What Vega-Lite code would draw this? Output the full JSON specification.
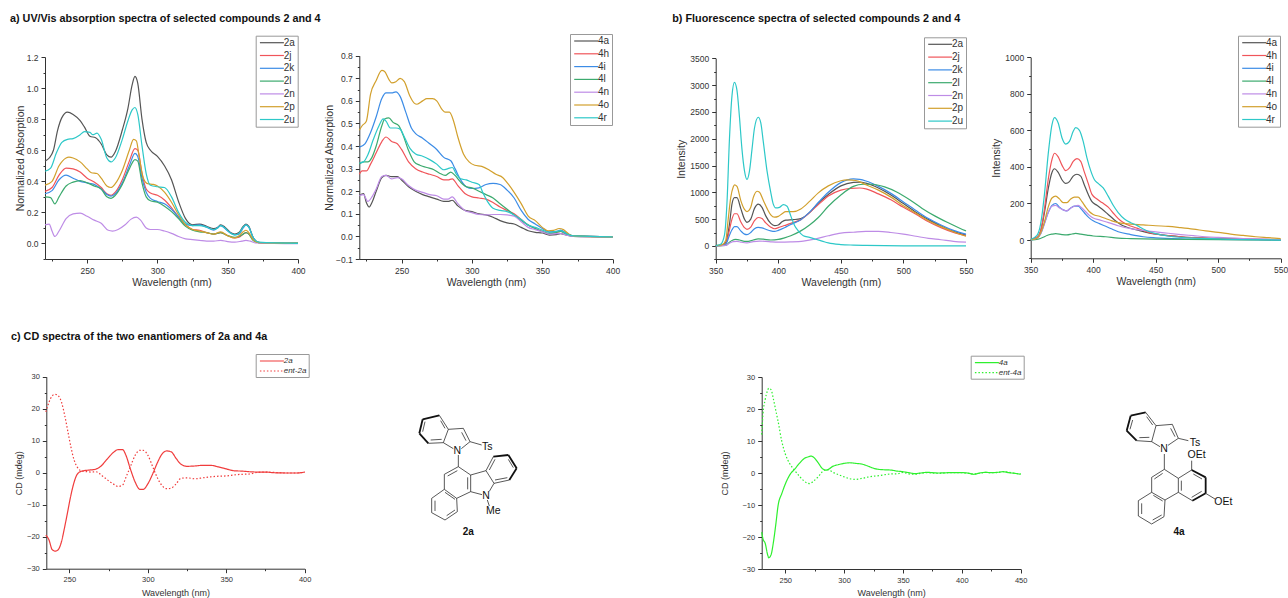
{"$schema":"https://vega.github.io/schema/vega-lite/v6.json","width":1288,"height":598,"padding":0,"autosize":{"type":"none"},"background":"white",
"config":{"view":{"stroke":null},"axis":{"grid":false,"domainColor":"#333","tickColor":"#333","labelColor":"#333","titleColor":"#333","labelFont":"Liberation Sans","titleFont":"Liberation Sans","titleFontWeight":"normal","labelFontSize":8.5,"titleFontSize":10.5,"labelOverlap":false,"labelPadding":3,"titlePadding":3,"domainWidth":1,"tickWidth":1,"labelFlush":false},"legend":{"labelFont":"Liberation Sans","labelColor":"#333"},"line":{"interpolate":"monotone","strokeWidth":1.2,"clip":false},"text":{"font":"Liberation Sans","color":"#111"}},
"resolve":{"scale":{"x":"independent","y":"independent","color":"independent","strokeDash":"independent","size":"independent"},"axis":{"x":"independent","y":"independent"},"legend":{"color":"independent","strokeDash":"independent","size":"independent"}},
"datasets":{
"titles":[{"panel":"a","w":195.1,"v":1.445,"label":"a) UV/Vis absorption spectra of selected compounds 2 and 4"},{"panel":"b","w":315.3,"v":4233,"label":"b) Fluorescence spectra of selected compounds 2 and 4"},{"panel":"c","w":212.8,"v":42.3,"label":"c) CD spectra of the two enantiomers of  2a and 4a"}],
"mol2a":[{"x1":68,"y1":58,"x2":118,"y2":46,"k":"bold"},{"x1":68,"y1":58,"x2":58,"y2":100,"k":"bold"},{"x1":58,"y1":100,"x2":85,"y2":130,"k":"bold"},{"x1":118,"y1":46,"x2":145,"y2":88,"k":"thin"},{"x1":145,"y1":88,"x2":130,"y2":128,"k":"thin"},{"x1":130,"y1":128,"x2":85,"y2":130,"k":"thin"},{"x1":122,"y1":62,"x2":135,"y2":85,"k":"thin"},{"x1":125,"y1":118,"x2":92,"y2":120,"k":"thin"},{"x1":75,"y1":65,"x2":68,"y2":95,"k":"thin"},{"x1":145,"y1":88,"x2":190,"y2":85,"k":"thin"},{"x1":190,"y1":85,"x2":210,"y2":125,"k":"thin"},{"x1":210,"y1":125,"x2":184,"y2":146,"k":"thin"},{"x1":130,"y1":128,"x2":160,"y2":146,"k":"thin"},{"x1":185,"y1":97,"x2":198,"y2":122,"k":"thin"},{"x1":210,"y1":125,"x2":245,"y2":135,"k":"thin"},{"x1":175,"y1":165,"x2":175,"y2":200,"k":"thin"},{"x1":175,"y1":200,"x2":133,"y2":223,"k":"thin"},{"x1":133,"y1":223,"x2":133,"y2":268,"k":"thin"},{"x1":133,"y1":268,"x2":170,"y2":295,"k":"thin"},{"x1":170,"y1":295,"x2":212,"y2":275,"k":"thin"},{"x1":212,"y1":275,"x2":212,"y2":225,"k":"thin"},{"x1":212,"y1":225,"x2":175,"y2":200,"k":"thin"},{"x1":172,"y1":212,"x2":143,"y2":228,"k":"thin"},{"x1":203,"y1":232,"x2":203,"y2":268,"k":"thin"},{"x1":135,"y1":277,"x2":165,"y2":298,"k":"thin"},{"x1":170,"y1":295,"x2":172,"y2":335,"k":"thin"},{"x1":172,"y1":335,"x2":135,"y2":360,"k":"thin"},{"x1":135,"y1":360,"x2":95,"y2":338,"k":"thin"},{"x1":95,"y1":338,"x2":95,"y2":295,"k":"thin"},{"x1":95,"y1":295,"x2":133,"y2":268,"k":"thin"},{"x1":105,"y1":302,"x2":105,"y2":333,"k":"thin"},{"x1":140,"y1":347,"x2":165,"y2":330,"k":"thin"},{"x1":212,"y1":225,"x2":258,"y2":212,"k":"thin"},{"x1":258,"y1":212,"x2":282,"y2":250,"k":"thin"},{"x1":282,"y1":250,"x2":268,"y2":274,"k":"thin"},{"x1":246,"y1":284,"x2":212,"y2":275,"k":"thin"},{"x1":262,"y1":300,"x2":268,"y2":318,"k":"thin"},{"x1":258,"y1":212,"x2":280,"y2":170,"k":"thin"},{"x1":280,"y1":170,"x2":325,"y2":165,"k":"bold"},{"x1":325,"y1":165,"x2":350,"y2":205,"k":"bold"},{"x1":350,"y1":205,"x2":328,"y2":240,"k":"bold"},{"x1":328,"y1":240,"x2":282,"y2":250,"k":"thin"},{"x1":268,"y1":210,"x2":285,"y2":178,"k":"thin"},{"x1":285,"y1":240,"x2":322,"y2":233,"k":"thin"},{"x1":325,"y1":178,"x2":340,"y2":203,"k":"thin"}],
"mol4a":[{"x1":62,"y1":47,"x2":107,"y2":37,"k":"bold"},{"x1":62,"y1":47,"x2":50,"y2":92,"k":"bold"},{"x1":50,"y1":92,"x2":80,"y2":122,"k":"bold"},{"x1":107,"y1":37,"x2":138,"y2":77,"k":"thin"},{"x1":138,"y1":77,"x2":125,"y2":125,"k":"thin"},{"x1":125,"y1":125,"x2":80,"y2":122,"k":"thin"},{"x1":68,"y1":60,"x2":60,"y2":88,"k":"thin"},{"x1":110,"y1":50,"x2":128,"y2":75,"k":"thin"},{"x1":118,"y1":112,"x2":88,"y2":113,"k":"thin"},{"x1":138,"y1":77,"x2":187,"y2":73,"k":"thin"},{"x1":187,"y1":73,"x2":205,"y2":115,"k":"thin"},{"x1":205,"y1":115,"x2":174,"y2":136,"k":"thin"},{"x1":125,"y1":125,"x2":150,"y2":140,"k":"thin"},{"x1":182,"y1":85,"x2":195,"y2":110,"k":"thin"},{"x1":205,"y1":115,"x2":235,"y2":122,"k":"thin"},{"x1":163,"y1":162,"x2":163,"y2":208,"k":"thin"},{"x1":163,"y1":208,"x2":205,"y2":235,"k":"thin"},{"x1":205,"y1":235,"x2":205,"y2":277,"k":"thin"},{"x1":205,"y1":277,"x2":165,"y2":300,"k":"thin"},{"x1":165,"y1":300,"x2":125,"y2":277,"k":"thin"},{"x1":125,"y1":277,"x2":125,"y2":232,"k":"thin"},{"x1":125,"y1":232,"x2":163,"y2":208,"k":"thin"},{"x1":158,"y1":220,"x2":133,"y2":237,"k":"thin"},{"x1":205,"y1":235,"x2":245,"y2":210,"k":"thin"},{"x1":245,"y1":210,"x2":287,"y2":232,"k":"bold"},{"x1":287,"y1":232,"x2":287,"y2":280,"k":"bold"},{"x1":287,"y1":280,"x2":247,"y2":302,"k":"bold"},{"x1":247,"y1":302,"x2":205,"y2":277,"k":"thin"},{"x1":250,"y1":222,"x2":276,"y2":237,"k":"thin"},{"x1":214,"y1":272,"x2":214,"y2":242,"k":"thin"},{"x1":245,"y1":292,"x2":275,"y2":274,"k":"thin"},{"x1":245,"y1":210,"x2":245,"y2":182,"k":"thin"},{"x1":287,"y1":280,"x2":315,"y2":297,"k":"thin"},{"x1":165,"y1":300,"x2":162,"y2":350,"k":"thin"},{"x1":162,"y1":350,"x2":125,"y2":372,"k":"thin"},{"x1":125,"y1":372,"x2":85,"y2":348,"k":"thin"},{"x1":85,"y1":348,"x2":85,"y2":302,"k":"thin"},{"x1":85,"y1":302,"x2":125,"y2":277,"k":"thin"},{"x1":95,"y1":310,"x2":95,"y2":342,"k":"thin"},{"x1":128,"y1":360,"x2":155,"y2":345,"k":"thin"},{"x1":130,"y1":286,"x2":158,"y2":303,"k":"thin"}],
"lab2a":[{"x":172,"y":152,"t":"N"},{"x":262,"y":142,"t":"Ts"},{"x":258,"y":287,"t":"N"},{"x":280,"y":333,"t":"Me"}],
"lab4a":[{"x":162,"y":147,"t":"N"},{"x":255,"y":130,"t":"Ts"},{"x":260,"y":165,"t":"OEt"},{"x":340,"y":305,"t":"OEt"}],
"name2a":[{"x":205,"y":395,"t":"2a"}],
"name4a":[{"x":207,"y":395,"t":"4a"}],
"a1":[
{"s":"2a","w":220,"v":0.53},{"s":"2a","w":223,"v":0.55},{"s":"2a","w":226,"v":0.6},{"s":"2a","w":229,"v":0.73},{"s":"2a","w":232,"v":0.81},{"s":"2a","w":236,"v":0.845},{"s":"2a","w":240,"v":0.83},{"s":"2a","w":245,"v":0.79},{"s":"2a","w":248,"v":0.75},{"s":"2a","w":252,"v":0.69},{"s":"2a","w":256,"v":0.68},{"s":"2a","w":260,"v":0.64},{"s":"2a","w":264,"v":0.57},{"s":"2a","w":267,"v":0.555},{"s":"2a","w":270,"v":0.59},{"s":"2a","w":275,"v":0.73},{"s":"2a","w":279,"v":0.87},{"s":"2a","w":282,"v":1.02},{"s":"2a","w":284,"v":1.075},{"s":"2a","w":286,"v":1.03},{"s":"2a","w":289,"v":0.8},{"s":"2a","w":292,"v":0.65},{"s":"2a","w":295,"v":0.6},{"s":"2a","w":300,"v":0.56},{"s":"2a","w":305,"v":0.5},{"s":"2a","w":310,"v":0.41},{"s":"2a","w":315,"v":0.27},{"s":"2a","w":320,"v":0.16},{"s":"2a","w":325,"v":0.12},{"s":"2a","w":330,"v":0.125},{"s":"2a","w":335,"v":0.11},{"s":"2a","w":340,"v":0.095},{"s":"2a","w":343,"v":0.105},{"s":"2a","w":345,"v":0.12},{"s":"2a","w":348,"v":0.105},{"s":"2a","w":352,"v":0.07},{"s":"2a","w":355,"v":0.06},{"s":"2a","w":358,"v":0.07},{"s":"2a","w":361,"v":0.11},{"s":"2a","w":363,"v":0.125},{"s":"2a","w":365,"v":0.11},{"s":"2a","w":368,"v":0.04},{"s":"2a","w":371,"v":0.01},{"s":"2a","w":375,"v":0.003},{"s":"2a","w":400,"v":0},
{"s":"2j","w":220,"v":0.335},{"s":"2j","w":225,"v":0.36},{"s":"2j","w":230,"v":0.44},{"s":"2j","w":235,"v":0.485},{"s":"2j","w":240,"v":0.48},{"s":"2j","w":245,"v":0.46},{"s":"2j","w":250,"v":0.42},{"s":"2j","w":255,"v":0.395},{"s":"2j","w":260,"v":0.36},{"s":"2j","w":264,"v":0.32},{"s":"2j","w":267,"v":0.31},{"s":"2j","w":270,"v":0.33},{"s":"2j","w":275,"v":0.41},{"s":"2j","w":280,"v":0.53},{"s":"2j","w":284,"v":0.61},{"s":"2j","w":286,"v":0.6},{"s":"2j","w":289,"v":0.45},{"s":"2j","w":292,"v":0.35},{"s":"2j","w":295,"v":0.325},{"s":"2j","w":300,"v":0.31},{"s":"2j","w":305,"v":0.28},{"s":"2j","w":310,"v":0.23},{"s":"2j","w":315,"v":0.17},{"s":"2j","w":320,"v":0.12},{"s":"2j","w":325,"v":0.09},{"s":"2j","w":330,"v":0.085},{"s":"2j","w":335,"v":0.07},{"s":"2j","w":340,"v":0.06},{"s":"2j","w":345,"v":0.07},{"s":"2j","w":350,"v":0.05},{"s":"2j","w":355,"v":0.035},{"s":"2j","w":358,"v":0.04},{"s":"2j","w":361,"v":0.06},{"s":"2j","w":363,"v":0.07},{"s":"2j","w":365,"v":0.06},{"s":"2j","w":368,"v":0.025},{"s":"2j","w":372,"v":0.005},{"s":"2j","w":400,"v":0},
{"s":"2k","w":220,"v":0.32},{"s":"2k","w":225,"v":0.34},{"s":"2k","w":230,"v":0.41},{"s":"2k","w":235,"v":0.44},{"s":"2k","w":240,"v":0.42},{"s":"2k","w":245,"v":0.4},{"s":"2k","w":250,"v":0.39},{"s":"2k","w":255,"v":0.38},{"s":"2k","w":260,"v":0.35},{"s":"2k","w":264,"v":0.315},{"s":"2k","w":267,"v":0.305},{"s":"2k","w":270,"v":0.32},{"s":"2k","w":275,"v":0.39},{"s":"2k","w":280,"v":0.5},{"s":"2k","w":284,"v":0.58},{"s":"2k","w":286,"v":0.56},{"s":"2k","w":289,"v":0.42},{"s":"2k","w":292,"v":0.33},{"s":"2k","w":295,"v":0.29},{"s":"2k","w":300,"v":0.27},{"s":"2k","w":305,"v":0.255},{"s":"2k","w":310,"v":0.22},{"s":"2k","w":315,"v":0.17},{"s":"2k","w":320,"v":0.125},{"s":"2k","w":325,"v":0.115},{"s":"2k","w":330,"v":0.12},{"s":"2k","w":335,"v":0.105},{"s":"2k","w":340,"v":0.085},{"s":"2k","w":345,"v":0.115},{"s":"2k","w":350,"v":0.08},{"s":"2k","w":355,"v":0.055},{"s":"2k","w":358,"v":0.06},{"s":"2k","w":361,"v":0.1},{"s":"2k","w":363,"v":0.12},{"s":"2k","w":365,"v":0.105},{"s":"2k","w":368,"v":0.04},{"s":"2k","w":372,"v":0.005},{"s":"2k","w":400,"v":0},
{"s":"2l","w":220,"v":0.3},{"s":"2l","w":224,"v":0.295},{"s":"2l","w":227,"v":0.255},{"s":"2l","w":230,"v":0.3},{"s":"2l","w":235,"v":0.37},{"s":"2l","w":240,"v":0.395},{"s":"2l","w":245,"v":0.405},{"s":"2l","w":250,"v":0.39},{"s":"2l","w":255,"v":0.37},{"s":"2l","w":260,"v":0.35},{"s":"2l","w":264,"v":0.3},{"s":"2l","w":267,"v":0.29},{"s":"2l","w":270,"v":0.31},{"s":"2l","w":275,"v":0.38},{"s":"2l","w":280,"v":0.48},{"s":"2l","w":284,"v":0.54},{"s":"2l","w":286,"v":0.53},{"s":"2l","w":289,"v":0.39},{"s":"2l","w":292,"v":0.3},{"s":"2l","w":295,"v":0.275},{"s":"2l","w":300,"v":0.265},{"s":"2l","w":305,"v":0.24},{"s":"2l","w":310,"v":0.205},{"s":"2l","w":315,"v":0.16},{"s":"2l","w":320,"v":0.11},{"s":"2l","w":325,"v":0.085},{"s":"2l","w":330,"v":0.075},{"s":"2l","w":335,"v":0.07},{"s":"2l","w":340,"v":0.06},{"s":"2l","w":345,"v":0.07},{"s":"2l","w":350,"v":0.05},{"s":"2l","w":355,"v":0.04},{"s":"2l","w":358,"v":0.045},{"s":"2l","w":361,"v":0.06},{"s":"2l","w":363,"v":0.07},{"s":"2l","w":365,"v":0.06},{"s":"2l","w":368,"v":0.02},{"s":"2l","w":372,"v":0.005},{"s":"2l","w":400,"v":0.002},
{"s":"2n","w":220,"v":0.12},{"s":"2n","w":223,"v":0.125},{"s":"2n","w":225,"v":0.08},{"s":"2n","w":227,"v":0.045},{"s":"2n","w":230,"v":0.08},{"s":"2n","w":235,"v":0.16},{"s":"2n","w":240,"v":0.19},{"s":"2n","w":245,"v":0.195},{"s":"2n","w":250,"v":0.175},{"s":"2n","w":255,"v":0.15},{"s":"2n","w":260,"v":0.13},{"s":"2n","w":265,"v":0.085},{"s":"2n","w":268,"v":0.08},{"s":"2n","w":272,"v":0.09},{"s":"2n","w":277,"v":0.12},{"s":"2n","w":281,"v":0.155},{"s":"2n","w":285,"v":0.17},{"s":"2n","w":288,"v":0.15},{"s":"2n","w":292,"v":0.1},{"s":"2n","w":295,"v":0.09},{"s":"2n","w":300,"v":0.09},{"s":"2n","w":305,"v":0.08},{"s":"2n","w":310,"v":0.065},{"s":"2n","w":315,"v":0.045},{"s":"2n","w":320,"v":0.03},{"s":"2n","w":325,"v":0.025},{"s":"2n","w":330,"v":0.02},{"s":"2n","w":335,"v":0.015},{"s":"2n","w":340,"v":0.015},{"s":"2n","w":345,"v":0.02},{"s":"2n","w":350,"v":0.012},{"s":"2n","w":355,"v":0.008},{"s":"2n","w":360,"v":0.015},{"s":"2n","w":363,"v":0.02},{"s":"2n","w":366,"v":0.015},{"s":"2n","w":370,"v":0.003},{"s":"2n","w":400,"v":-0.002},
{"s":"2p","w":220,"v":0.375},{"s":"2p","w":225,"v":0.4},{"s":"2p","w":230,"v":0.5},{"s":"2p","w":235,"v":0.55},{"s":"2p","w":237,"v":0.555},{"s":"2p","w":240,"v":0.55},{"s":"2p","w":245,"v":0.525},{"s":"2p","w":250,"v":0.48},{"s":"2p","w":253,"v":0.455},{"s":"2p","w":257,"v":0.45},{"s":"2p","w":260,"v":0.42},{"s":"2p","w":264,"v":0.37},{"s":"2p","w":267,"v":0.36},{"s":"2p","w":270,"v":0.385},{"s":"2p","w":275,"v":0.47},{"s":"2p","w":280,"v":0.6},{"s":"2p","w":283,"v":0.67},{"s":"2p","w":285,"v":0.66},{"s":"2p","w":287,"v":0.56},{"s":"2p","w":290,"v":0.42},{"s":"2p","w":293,"v":0.385},{"s":"2p","w":297,"v":0.38},{"s":"2p","w":300,"v":0.37},{"s":"2p","w":305,"v":0.33},{"s":"2p","w":310,"v":0.265},{"s":"2p","w":315,"v":0.185},{"s":"2p","w":320,"v":0.12},{"s":"2p","w":325,"v":0.09},{"s":"2p","w":330,"v":0.08},{"s":"2p","w":335,"v":0.07},{"s":"2p","w":340,"v":0.06},{"s":"2p","w":345,"v":0.075},{"s":"2p","w":350,"v":0.05},{"s":"2p","w":355,"v":0.035},{"s":"2p","w":358,"v":0.05},{"s":"2p","w":361,"v":0.075},{"s":"2p","w":363,"v":0.085},{"s":"2p","w":365,"v":0.07},{"s":"2p","w":368,"v":0.025},{"s":"2p","w":372,"v":0.005},{"s":"2p","w":400,"v":0},
{"s":"2u","w":220,"v":0.465},{"s":"2u","w":224,"v":0.485},{"s":"2u","w":228,"v":0.58},{"s":"2u","w":232,"v":0.65},{"s":"2u","w":236,"v":0.67},{"s":"2u","w":240,"v":0.675},{"s":"2u","w":245,"v":0.7},{"s":"2u","w":248,"v":0.72},{"s":"2u","w":252,"v":0.715},{"s":"2u","w":254,"v":0.7},{"s":"2u","w":257,"v":0.71},{"s":"2u","w":260,"v":0.67},{"s":"2u","w":264,"v":0.55},{"s":"2u","w":267,"v":0.525},{"s":"2u","w":270,"v":0.55},{"s":"2u","w":275,"v":0.67},{"s":"2u","w":279,"v":0.79},{"s":"2u","w":282,"v":0.86},{"s":"2u","w":284,"v":0.875},{"s":"2u","w":286,"v":0.83},{"s":"2u","w":289,"v":0.63},{"s":"2u","w":292,"v":0.45},{"s":"2u","w":295,"v":0.375},{"s":"2u","w":300,"v":0.365},{"s":"2u","w":305,"v":0.36},{"s":"2u","w":310,"v":0.3},{"s":"2u","w":315,"v":0.2},{"s":"2u","w":320,"v":0.135},{"s":"2u","w":325,"v":0.115},{"s":"2u","w":330,"v":0.115},{"s":"2u","w":335,"v":0.105},{"s":"2u","w":340,"v":0.09},{"s":"2u","w":343,"v":0.1},{"s":"2u","w":345,"v":0.115},{"s":"2u","w":348,"v":0.1},{"s":"2u","w":352,"v":0.065},{"s":"2u","w":355,"v":0.055},{"s":"2u","w":358,"v":0.065},{"s":"2u","w":361,"v":0.105},{"s":"2u","w":363,"v":0.12},{"s":"2u","w":365,"v":0.105},{"s":"2u","w":368,"v":0.04},{"s":"2u","w":372,"v":0.008},{"s":"2u","w":400,"v":0}],
"a2":[
{"s":"4a","w":220,"v":0.18},{"s":"4a","w":223,"v":0.19},{"s":"4a","w":225,"v":0.15},{"s":"4a","w":227,"v":0.13},{"s":"4a","w":229,"v":0.15},{"s":"4a","w":232,"v":0.2},{"s":"4a","w":236,"v":0.26},{"s":"4a","w":239,"v":0.27},{"s":"4a","w":243,"v":0.265},{"s":"4a","w":247,"v":0.265},{"s":"4a","w":250,"v":0.25},{"s":"4a","w":255,"v":0.22},{"s":"4a","w":260,"v":0.2},{"s":"4a","w":265,"v":0.185},{"s":"4a","w":270,"v":0.175},{"s":"4a","w":275,"v":0.165},{"s":"4a","w":280,"v":0.155},{"s":"4a","w":283,"v":0.155},{"s":"4a","w":286,"v":0.16},{"s":"4a","w":290,"v":0.135},{"s":"4a","w":295,"v":0.115},{"s":"4a","w":300,"v":0.11},{"s":"4a","w":305,"v":0.1},{"s":"4a","w":310,"v":0.095},{"s":"4a","w":315,"v":0.085},{"s":"4a","w":320,"v":0.07},{"s":"4a","w":325,"v":0.06},{"s":"4a","w":330,"v":0.055},{"s":"4a","w":335,"v":0.04},{"s":"4a","w":340,"v":0.025},{"s":"4a","w":345,"v":0.018},{"s":"4a","w":350,"v":0.015},{"s":"4a","w":355,"v":0.006},{"s":"4a","w":360,"v":0.008},{"s":"4a","w":363,"v":0.012},{"s":"4a","w":367,"v":0.006},{"s":"4a","w":372,"v":0},{"s":"4a","w":400,"v":-0.002},
{"s":"4h","w":220,"v":0.275},{"s":"4h","w":222,"v":0.29},{"s":"4h","w":225,"v":0.29},{"s":"4h","w":228,"v":0.32},{"s":"4h","w":232,"v":0.37},{"s":"4h","w":236,"v":0.42},{"s":"4h","w":239,"v":0.44},{"s":"4h","w":243,"v":0.42},{"s":"4h","w":247,"v":0.41},{"s":"4h","w":250,"v":0.385},{"s":"4h","w":255,"v":0.33},{"s":"4h","w":260,"v":0.3},{"s":"4h","w":265,"v":0.285},{"s":"4h","w":270,"v":0.275},{"s":"4h","w":275,"v":0.265},{"s":"4h","w":280,"v":0.25},{"s":"4h","w":283,"v":0.25},{"s":"4h","w":286,"v":0.255},{"s":"4h","w":290,"v":0.225},{"s":"4h","w":295,"v":0.19},{"s":"4h","w":300,"v":0.175},{"s":"4h","w":305,"v":0.17},{"s":"4h","w":310,"v":0.165},{"s":"4h","w":315,"v":0.15},{"s":"4h","w":320,"v":0.13},{"s":"4h","w":325,"v":0.115},{"s":"4h","w":330,"v":0.1},{"s":"4h","w":335,"v":0.075},{"s":"4h","w":340,"v":0.05},{"s":"4h","w":345,"v":0.035},{"s":"4h","w":350,"v":0.022},{"s":"4h","w":355,"v":0.012},{"s":"4h","w":360,"v":0.018},{"s":"4h","w":363,"v":0.022},{"s":"4h","w":367,"v":0.012},{"s":"4h","w":372,"v":0.002},{"s":"4h","w":400,"v":-0.002},
{"s":"4i","w":220,"v":0.395},{"s":"4i","w":224,"v":0.41},{"s":"4i","w":228,"v":0.46},{"s":"4i","w":232,"v":0.53},{"s":"4i","w":236,"v":0.61},{"s":"4i","w":239,"v":0.635},{"s":"4i","w":243,"v":0.635},{"s":"4i","w":246,"v":0.64},{"s":"4i","w":249,"v":0.62},{"s":"4i","w":253,"v":0.55},{"s":"4i","w":257,"v":0.48},{"s":"4i","w":260,"v":0.455},{"s":"4i","w":265,"v":0.435},{"s":"4i","w":270,"v":0.41},{"s":"4i","w":275,"v":0.385},{"s":"4i","w":280,"v":0.35},{"s":"4i","w":285,"v":0.335},{"s":"4i","w":288,"v":0.3},{"s":"4i","w":292,"v":0.25},{"s":"4i","w":296,"v":0.22},{"s":"4i","w":300,"v":0.212},{"s":"4i","w":305,"v":0.215},{"s":"4i","w":310,"v":0.23},{"s":"4i","w":315,"v":0.235},{"s":"4i","w":320,"v":0.23},{"s":"4i","w":325,"v":0.205},{"s":"4i","w":330,"v":0.17},{"s":"4i","w":335,"v":0.115},{"s":"4i","w":340,"v":0.075},{"s":"4i","w":345,"v":0.055},{"s":"4i","w":350,"v":0.035},{"s":"4i","w":355,"v":0.02},{"s":"4i","w":360,"v":0.022},{"s":"4i","w":363,"v":0.028},{"s":"4i","w":367,"v":0.015},{"s":"4i","w":372,"v":0.002},{"s":"4i","w":400,"v":-0.002},
{"s":"4l","w":220,"v":0.32},{"s":"4l","w":223,"v":0.33},{"s":"4l","w":226,"v":0.33},{"s":"4l","w":229,"v":0.35},{"s":"4l","w":232,"v":0.4},{"s":"4l","w":236,"v":0.49},{"s":"4l","w":238,"v":0.52},{"s":"4l","w":241,"v":0.525},{"s":"4l","w":244,"v":0.505},{"s":"4l","w":248,"v":0.49},{"s":"4l","w":251,"v":0.45},{"s":"4l","w":255,"v":0.38},{"s":"4l","w":259,"v":0.33},{"s":"4l","w":263,"v":0.315},{"s":"4l","w":268,"v":0.305},{"s":"4l","w":273,"v":0.295},{"s":"4l","w":277,"v":0.28},{"s":"4l","w":281,"v":0.27},{"s":"4l","w":285,"v":0.285},{"s":"4l","w":288,"v":0.27},{"s":"4l","w":292,"v":0.24},{"s":"4l","w":296,"v":0.22},{"s":"4l","w":300,"v":0.215},{"s":"4l","w":305,"v":0.2},{"s":"4l","w":310,"v":0.185},{"s":"4l","w":315,"v":0.17},{"s":"4l","w":320,"v":0.145},{"s":"4l","w":325,"v":0.12},{"s":"4l","w":330,"v":0.095},{"s":"4l","w":335,"v":0.07},{"s":"4l","w":340,"v":0.05},{"s":"4l","w":345,"v":0.035},{"s":"4l","w":350,"v":0.022},{"s":"4l","w":355,"v":0.012},{"s":"4l","w":360,"v":0.018},{"s":"4l","w":363,"v":0.022},{"s":"4l","w":367,"v":0.01},{"s":"4l","w":372,"v":0.002},{"s":"4l","w":400,"v":-0.002},
{"s":"4n","w":220,"v":0.18},{"s":"4n","w":223,"v":0.185},{"s":"4n","w":226,"v":0.155},{"s":"4n","w":229,"v":0.175},{"s":"4n","w":232,"v":0.21},{"s":"4n","w":236,"v":0.265},{"s":"4n","w":239,"v":0.27},{"s":"4n","w":243,"v":0.255},{"s":"4n","w":247,"v":0.26},{"s":"4n","w":250,"v":0.255},{"s":"4n","w":255,"v":0.225},{"s":"4n","w":260,"v":0.205},{"s":"4n","w":265,"v":0.195},{"s":"4n","w":270,"v":0.185},{"s":"4n","w":275,"v":0.18},{"s":"4n","w":280,"v":0.165},{"s":"4n","w":283,"v":0.165},{"s":"4n","w":286,"v":0.175},{"s":"4n","w":290,"v":0.145},{"s":"4n","w":295,"v":0.115},{"s":"4n","w":300,"v":0.105},{"s":"4n","w":305,"v":0.097},{"s":"4n","w":310,"v":0.095},{"s":"4n","w":315,"v":0.097},{"s":"4n","w":320,"v":0.097},{"s":"4n","w":325,"v":0.095},{"s":"4n","w":330,"v":0.09},{"s":"4n","w":335,"v":0.065},{"s":"4n","w":340,"v":0.04},{"s":"4n","w":345,"v":0.03},{"s":"4n","w":350,"v":0.02},{"s":"4n","w":355,"v":0.01},{"s":"4n","w":360,"v":0.012},{"s":"4n","w":363,"v":0.013},{"s":"4n","w":367,"v":0.006},{"s":"4n","w":372,"v":0},{"s":"4n","w":400,"v":-0.002},
{"s":"4o","w":220,"v":0.47},{"s":"4o","w":222,"v":0.49},{"s":"4o","w":225,"v":0.51},{"s":"4o","w":228,"v":0.63},{"s":"4o","w":232,"v":0.69},{"s":"4o","w":236,"v":0.735},{"s":"4o","w":238,"v":0.73},{"s":"4o","w":241,"v":0.695},{"s":"4o","w":243,"v":0.68},{"s":"4o","w":246,"v":0.685},{"s":"4o","w":249,"v":0.7},{"s":"4o","w":252,"v":0.685},{"s":"4o","w":256,"v":0.62},{"s":"4o","w":259,"v":0.59},{"s":"4o","w":261,"v":0.585},{"s":"4o","w":265,"v":0.6},{"s":"4o","w":268,"v":0.61},{"s":"4o","w":272,"v":0.61},{"s":"4o","w":275,"v":0.6},{"s":"4o","w":279,"v":0.56},{"s":"4o","w":281,"v":0.55},{"s":"4o","w":284,"v":0.55},{"s":"4o","w":287,"v":0.51},{"s":"4o","w":290,"v":0.44},{"s":"4o","w":294,"v":0.365},{"s":"4o","w":298,"v":0.33},{"s":"4o","w":302,"v":0.315},{"s":"4o","w":307,"v":0.31},{"s":"4o","w":312,"v":0.295},{"s":"4o","w":317,"v":0.275},{"s":"4o","w":322,"v":0.26},{"s":"4o","w":326,"v":0.23},{"s":"4o","w":330,"v":0.195},{"s":"4o","w":335,"v":0.145},{"s":"4o","w":340,"v":0.09},{"s":"4o","w":345,"v":0.07},{"s":"4o","w":350,"v":0.04},{"s":"4o","w":354,"v":0.025},{"s":"4o","w":358,"v":0.027},{"s":"4o","w":362,"v":0.035},{"s":"4o","w":365,"v":0.03},{"s":"4o","w":369,"v":0.01},{"s":"4o","w":373,"v":0.001},{"s":"4o","w":400,"v":-0.002},
{"s":"4r","w":220,"v":0.325},{"s":"4r","w":223,"v":0.33},{"s":"4r","w":226,"v":0.36},{"s":"4r","w":230,"v":0.43},{"s":"4r","w":234,"v":0.49},{"s":"4r","w":237,"v":0.52},{"s":"4r","w":239,"v":0.51},{"s":"4r","w":242,"v":0.48},{"s":"4r","w":246,"v":0.48},{"s":"4r","w":249,"v":0.475},{"s":"4r","w":252,"v":0.44},{"s":"4r","w":256,"v":0.39},{"s":"4r","w":260,"v":0.365},{"s":"4r","w":265,"v":0.355},{"s":"4r","w":270,"v":0.34},{"s":"4r","w":275,"v":0.32},{"s":"4r","w":280,"v":0.295},{"s":"4r","w":283,"v":0.3},{"s":"4r","w":286,"v":0.305},{"s":"4r","w":289,"v":0.275},{"s":"4r","w":292,"v":0.255},{"s":"4r","w":296,"v":0.25},{"s":"4r","w":300,"v":0.24},{"s":"4r","w":305,"v":0.23},{"s":"4r","w":308,"v":0.19},{"s":"4r","w":311,"v":0.155},{"s":"4r","w":315,"v":0.125},{"s":"4r","w":320,"v":0.115},{"s":"4r","w":325,"v":0.11},{"s":"4r","w":330,"v":0.095},{"s":"4r","w":335,"v":0.075},{"s":"4r","w":340,"v":0.05},{"s":"4r","w":345,"v":0.04},{"s":"4r","w":350,"v":0.028},{"s":"4r","w":355,"v":0.018},{"s":"4r","w":360,"v":0.022},{"s":"4r","w":363,"v":0.026},{"s":"4r","w":367,"v":0.012},{"s":"4r","w":372,"v":0.002},{"s":"4r","w":400,"v":-0.002}],
"b1":[
{"s":"2a","w":350,"v":5},{"s":"2a","w":355,"v":15},{"s":"2a","w":358,"v":60},{"s":"2a","w":361,"v":400},{"s":"2a","w":363,"v":780},{"s":"2a","w":365,"v":900},{"s":"2a","w":367,"v":900},{"s":"2a","w":370,"v":700},{"s":"2a","w":373,"v":500},{"s":"2a","w":375,"v":440},{"s":"2a","w":378,"v":500},{"s":"2a","w":381,"v":700},{"s":"2a","w":384,"v":780},{"s":"2a","w":387,"v":720},{"s":"2a","w":390,"v":560},{"s":"2a","w":394,"v":420},{"s":"2a","w":397,"v":380},{"s":"2a","w":400,"v":390},{"s":"2a","w":403,"v":450},{"s":"2a","w":406,"v":480},{"s":"2a","w":412,"v":490},{"s":"2a","w":418,"v":510},{"s":"2a","w":425,"v":620},{"s":"2a","w":432,"v":800},{"s":"2a","w":440,"v":960},{"s":"2a","w":450,"v":1120},{"s":"2a","w":460,"v":1185},{"s":"2a","w":465,"v":1190},{"s":"2a","w":470,"v":1170},{"s":"2a","w":480,"v":1080},{"s":"2a","w":490,"v":950},{"s":"2a","w":500,"v":790},{"s":"2a","w":510,"v":630},{"s":"2a","w":520,"v":490},{"s":"2a","w":530,"v":370},{"s":"2a","w":540,"v":270},{"s":"2a","w":550,"v":200},
{"s":"2j","w":350,"v":5},{"s":"2j","w":355,"v":10},{"s":"2j","w":358,"v":40},{"s":"2j","w":361,"v":300},{"s":"2j","w":363,"v":500},{"s":"2j","w":365,"v":600},{"s":"2j","w":367,"v":600},{"s":"2j","w":370,"v":450},{"s":"2j","w":373,"v":340},{"s":"2j","w":375,"v":310},{"s":"2j","w":378,"v":350},{"s":"2j","w":381,"v":470},{"s":"2j","w":384,"v":530},{"s":"2j","w":387,"v":510},{"s":"2j","w":390,"v":430},{"s":"2j","w":394,"v":350},{"s":"2j","w":397,"v":320},{"s":"2j","w":400,"v":340},{"s":"2j","w":405,"v":380},{"s":"2j","w":410,"v":420},{"s":"2j","w":418,"v":490},{"s":"2j","w":425,"v":620},{"s":"2j","w":432,"v":770},{"s":"2j","w":440,"v":930},{"s":"2j","w":450,"v":1040},{"s":"2j","w":458,"v":1075},{"s":"2j","w":465,"v":1080},{"s":"2j","w":470,"v":1065},{"s":"2j","w":480,"v":970},{"s":"2j","w":490,"v":860},{"s":"2j","w":500,"v":720},{"s":"2j","w":510,"v":590},{"s":"2j","w":520,"v":450},{"s":"2j","w":530,"v":340},{"s":"2j","w":540,"v":250},{"s":"2j","w":550,"v":190},
{"s":"2k","w":350,"v":5},{"s":"2k","w":355,"v":10},{"s":"2k","w":358,"v":30},{"s":"2k","w":361,"v":200},{"s":"2k","w":363,"v":300},{"s":"2k","w":365,"v":360},{"s":"2k","w":367,"v":360},{"s":"2k","w":370,"v":280},{"s":"2k","w":373,"v":220},{"s":"2k","w":375,"v":210},{"s":"2k","w":378,"v":250},{"s":"2k","w":381,"v":320},{"s":"2k","w":384,"v":345},{"s":"2k","w":387,"v":335},{"s":"2k","w":390,"v":310},{"s":"2k","w":394,"v":280},{"s":"2k","w":397,"v":270},{"s":"2k","w":400,"v":290},{"s":"2k","w":405,"v":340},{"s":"2k","w":410,"v":400},{"s":"2k","w":418,"v":490},{"s":"2k","w":425,"v":630},{"s":"2k","w":432,"v":810},{"s":"2k","w":440,"v":1000},{"s":"2k","w":450,"v":1180},{"s":"2k","w":460,"v":1250},{"s":"2k","w":465,"v":1240},{"s":"2k","w":470,"v":1210},{"s":"2k","w":480,"v":1110},{"s":"2k","w":490,"v":980},{"s":"2k","w":500,"v":820},{"s":"2k","w":510,"v":660},{"s":"2k","w":520,"v":510},{"s":"2k","w":530,"v":390},{"s":"2k","w":540,"v":290},{"s":"2k","w":550,"v":220},
{"s":"2l","w":350,"v":0},{"s":"2l","w":358,"v":10},{"s":"2l","w":361,"v":70},{"s":"2l","w":363,"v":100},{"s":"2l","w":366,"v":120},{"s":"2l","w":369,"v":110},{"s":"2l","w":373,"v":85},{"s":"2l","w":376,"v":85},{"s":"2l","w":380,"v":110},{"s":"2l","w":384,"v":130},{"s":"2l","w":388,"v":125},{"s":"2l","w":394,"v":110},{"s":"2l","w":400,"v":120},{"s":"2l","w":405,"v":150},{"s":"2l","w":410,"v":190},{"s":"2l","w":418,"v":280},{"s":"2l","w":425,"v":390},{"s":"2l","w":432,"v":530},{"s":"2l","w":440,"v":740},{"s":"2l","w":450,"v":950},{"s":"2l","w":460,"v":1110},{"s":"2l","w":468,"v":1150},{"s":"2l","w":475,"v":1150},{"s":"2l","w":485,"v":1100},{"s":"2l","w":495,"v":1000},{"s":"2l","w":505,"v":860},{"s":"2l","w":515,"v":700},{"s":"2l","w":525,"v":560},{"s":"2l","w":535,"v":440},{"s":"2l","w":545,"v":330},{"s":"2l","w":550,"v":280},
{"s":"2n","w":350,"v":0},{"s":"2n","w":358,"v":10},{"s":"2n","w":361,"v":50},{"s":"2n","w":364,"v":80},{"s":"2n","w":367,"v":85},{"s":"2n","w":370,"v":70},{"s":"2n","w":375,"v":55},{"s":"2n","w":380,"v":80},{"s":"2n","w":385,"v":90},{"s":"2n","w":390,"v":85},{"s":"2n","w":395,"v":75},{"s":"2n","w":400,"v":70},{"s":"2n","w":410,"v":75},{"s":"2n","w":420,"v":90},{"s":"2n","w":430,"v":130},{"s":"2n","w":440,"v":190},{"s":"2n","w":450,"v":240},{"s":"2n","w":460,"v":255},{"s":"2n","w":470,"v":270},{"s":"2n","w":480,"v":270},{"s":"2n","w":490,"v":250},{"s":"2n","w":500,"v":220},{"s":"2n","w":510,"v":180},{"s":"2n","w":520,"v":140},{"s":"2n","w":530,"v":115},{"s":"2n","w":540,"v":85},{"s":"2n","w":550,"v":70},
{"s":"2p","w":350,"v":5},{"s":"2p","w":355,"v":20},{"s":"2p","w":358,"v":100},{"s":"2p","w":360,"v":500},{"s":"2p","w":362,"v":900},{"s":"2p","w":364,"v":1100},{"s":"2p","w":365,"v":1140},{"s":"2p","w":367,"v":1110},{"s":"2p","w":370,"v":850},{"s":"2p","w":373,"v":680},{"s":"2p","w":375,"v":640},{"s":"2p","w":378,"v":720},{"s":"2p","w":380,"v":900},{"s":"2p","w":383,"v":1020},{"s":"2p","w":385,"v":1000},{"s":"2p","w":388,"v":850},{"s":"2p","w":391,"v":700},{"s":"2p","w":394,"v":580},{"s":"2p","w":397,"v":535},{"s":"2p","w":400,"v":550},{"s":"2p","w":403,"v":600},{"s":"2p","w":406,"v":640},{"s":"2p","w":412,"v":640},{"s":"2p","w":418,"v":690},{"s":"2p","w":425,"v":830},{"s":"2p","w":432,"v":990},{"s":"2p","w":440,"v":1120},{"s":"2p","w":450,"v":1215},{"s":"2p","w":455,"v":1230},{"s":"2p","w":462,"v":1220},{"s":"2p","w":470,"v":1140},{"s":"2p","w":480,"v":1040},{"s":"2p","w":490,"v":910},{"s":"2p","w":500,"v":750},{"s":"2p","w":510,"v":610},{"s":"2p","w":520,"v":470},{"s":"2p","w":530,"v":360},{"s":"2p","w":540,"v":265},{"s":"2p","w":550,"v":180},
{"s":"2u","w":350,"v":5},{"s":"2u","w":354,"v":30},{"s":"2u","w":357,"v":200},{"s":"2u","w":359,"v":800},{"s":"2u","w":361,"v":2000},{"s":"2u","w":363,"v":2800},{"s":"2u","w":365,"v":3050},{"s":"2u","w":367,"v":2900},{"s":"2u","w":369,"v":2400},{"s":"2u","w":371,"v":1800},{"s":"2u","w":373,"v":1400},{"s":"2u","w":375,"v":1240},{"s":"2u","w":377,"v":1400},{"s":"2u","w":379,"v":1800},{"s":"2u","w":381,"v":2200},{"s":"2u","w":384,"v":2400},{"s":"2u","w":386,"v":2300},{"s":"2u","w":388,"v":1950},{"s":"2u","w":391,"v":1400},{"s":"2u","w":394,"v":1000},{"s":"2u","w":396,"v":780},{"s":"2u","w":398,"v":710},{"s":"2u","w":401,"v":720},{"s":"2u","w":404,"v":770},{"s":"2u","w":407,"v":740},{"s":"2u","w":410,"v":560},{"s":"2u","w":413,"v":380},{"s":"2u","w":416,"v":280},{"s":"2u","w":420,"v":190},{"s":"2u","w":425,"v":160},{"s":"2u","w":430,"v":125},{"s":"2u","w":435,"v":90},{"s":"2u","w":440,"v":55},{"s":"2u","w":450,"v":25},{"s":"2u","w":460,"v":15},{"s":"2u","w":470,"v":10},{"s":"2u","w":500,"v":2},{"s":"2u","w":550,"v":0}],
"b2":[
{"s":"4a","w":350,"v":3},{"s":"4a","w":355,"v":15},{"s":"4a","w":358,"v":50},{"s":"4a","w":361,"v":150},{"s":"4a","w":364,"v":280},{"s":"4a","w":367,"v":370},{"s":"4a","w":369,"v":390},{"s":"4a","w":372,"v":370},{"s":"4a","w":375,"v":330},{"s":"4a","w":378,"v":310},{"s":"4a","w":381,"v":320},{"s":"4a","w":384,"v":350},{"s":"4a","w":387,"v":360},{"s":"4a","w":390,"v":350},{"s":"4a","w":393,"v":300},{"s":"4a","w":396,"v":250},{"s":"4a","w":399,"v":210},{"s":"4a","w":403,"v":190},{"s":"4a","w":407,"v":170},{"s":"4a","w":412,"v":140},{"s":"4a","w":417,"v":110},{"s":"4a","w":422,"v":85},{"s":"4a","w":427,"v":70},{"s":"4a","w":435,"v":55},{"s":"4a","w":445,"v":38},{"s":"4a","w":455,"v":28},{"s":"4a","w":470,"v":18},{"s":"4a","w":490,"v":10},{"s":"4a","w":520,"v":5},{"s":"4a","w":550,"v":2},
{"s":"4h","w":350,"v":3},{"s":"4h","w":355,"v":15},{"s":"4h","w":358,"v":50},{"s":"4h","w":361,"v":170},{"s":"4h","w":364,"v":330},{"s":"4h","w":367,"v":440},{"s":"4h","w":369,"v":475},{"s":"4h","w":372,"v":455},{"s":"4h","w":375,"v":410},{"s":"4h","w":378,"v":380},{"s":"4h","w":381,"v":395},{"s":"4h","w":384,"v":430},{"s":"4h","w":387,"v":445},{"s":"4h","w":390,"v":430},{"s":"4h","w":393,"v":370},{"s":"4h","w":396,"v":310},{"s":"4h","w":399,"v":250},{"s":"4h","w":403,"v":225},{"s":"4h","w":407,"v":205},{"s":"4h","w":412,"v":180},{"s":"4h","w":417,"v":140},{"s":"4h","w":422,"v":105},{"s":"4h","w":427,"v":85},{"s":"4h","w":435,"v":65},{"s":"4h","w":445,"v":40},{"s":"4h","w":455,"v":28},{"s":"4h","w":470,"v":18},{"s":"4h","w":490,"v":10},{"s":"4h","w":520,"v":5},{"s":"4h","w":550,"v":2},
{"s":"4i","w":350,"v":0},{"s":"4i","w":355,"v":10},{"s":"4i","w":358,"v":35},{"s":"4i","w":361,"v":90},{"s":"4i","w":364,"v":150},{"s":"4i","w":367,"v":190},{"s":"4i","w":370,"v":200},{"s":"4i","w":373,"v":180},{"s":"4i","w":376,"v":165},{"s":"4i","w":379,"v":160},{"s":"4i","w":382,"v":175},{"s":"4i","w":385,"v":185},{"s":"4i","w":388,"v":185},{"s":"4i","w":391,"v":165},{"s":"4i","w":394,"v":140},{"s":"4i","w":397,"v":120},{"s":"4i","w":400,"v":105},{"s":"4i","w":405,"v":90},{"s":"4i","w":410,"v":75},{"s":"4i","w":415,"v":60},{"s":"4i","w":420,"v":45},{"s":"4i","w":430,"v":30},{"s":"4i","w":440,"v":18},{"s":"4i","w":450,"v":12},{"s":"4i","w":470,"v":6},{"s":"4i","w":500,"v":3},{"s":"4i","w":550,"v":0},
{"s":"4l","w":350,"v":0},{"s":"4l","w":356,"v":5},{"s":"4l","w":360,"v":15},{"s":"4l","w":363,"v":25},{"s":"4l","w":367,"v":32},{"s":"4l","w":370,"v":35},{"s":"4l","w":375,"v":30},{"s":"4l","w":379,"v":28},{"s":"4l","w":383,"v":33},{"s":"4l","w":386,"v":36},{"s":"4l","w":390,"v":32},{"s":"4l","w":395,"v":27},{"s":"4l","w":400,"v":22},{"s":"4l","w":410,"v":18},{"s":"4l","w":420,"v":10},{"s":"4l","w":430,"v":8},{"s":"4l","w":450,"v":5},{"s":"4l","w":500,"v":2},{"s":"4l","w":550,"v":0},
{"s":"4n","w":350,"v":0},{"s":"4n","w":355,"v":10},{"s":"4n","w":358,"v":35},{"s":"4n","w":361,"v":90},{"s":"4n","w":364,"v":150},{"s":"4n","w":367,"v":185},{"s":"4n","w":370,"v":190},{"s":"4n","w":373,"v":175},{"s":"4n","w":376,"v":165},{"s":"4n","w":379,"v":160},{"s":"4n","w":382,"v":175},{"s":"4n","w":385,"v":185},{"s":"4n","w":388,"v":190},{"s":"4n","w":391,"v":175},{"s":"4n","w":394,"v":155},{"s":"4n","w":397,"v":135},{"s":"4n","w":400,"v":120},{"s":"4n","w":405,"v":110},{"s":"4n","w":410,"v":100},{"s":"4n","w":415,"v":90},{"s":"4n","w":420,"v":78},{"s":"4n","w":430,"v":62},{"s":"4n","w":440,"v":52},{"s":"4n","w":450,"v":45},{"s":"4n","w":460,"v":37},{"s":"4n","w":470,"v":30},{"s":"4n","w":480,"v":24},{"s":"4n","w":490,"v":18},{"s":"4n","w":500,"v":14},{"s":"4n","w":520,"v":8},{"s":"4n","w":550,"v":2},
{"s":"4o","w":350,"v":2},{"s":"4o","w":355,"v":10},{"s":"4o","w":358,"v":40},{"s":"4o","w":361,"v":100},{"s":"4o","w":364,"v":180},{"s":"4o","w":367,"v":230},{"s":"4o","w":370,"v":240},{"s":"4o","w":373,"v":225},{"s":"4o","w":376,"v":205},{"s":"4o","w":379,"v":205},{"s":"4o","w":382,"v":225},{"s":"4o","w":385,"v":235},{"s":"4o","w":388,"v":235},{"s":"4o","w":391,"v":210},{"s":"4o","w":394,"v":180},{"s":"4o","w":397,"v":155},{"s":"4o","w":400,"v":140},{"s":"4o","w":405,"v":130},{"s":"4o","w":410,"v":118},{"s":"4o","w":415,"v":105},{"s":"4o","w":420,"v":95},{"s":"4o","w":430,"v":87},{"s":"4o","w":440,"v":83},{"s":"4o","w":450,"v":78},{"s":"4o","w":460,"v":75},{"s":"4o","w":470,"v":68},{"s":"4o","w":480,"v":60},{"s":"4o","w":490,"v":50},{"s":"4o","w":500,"v":42},{"s":"4o","w":510,"v":32},{"s":"4o","w":520,"v":25},{"s":"4o","w":530,"v":18},{"s":"4o","w":540,"v":13},{"s":"4o","w":550,"v":8},
{"s":"4r","w":350,"v":3},{"s":"4r","w":355,"v":25},{"s":"4r","w":358,"v":90},{"s":"4r","w":361,"v":250},{"s":"4r","w":364,"v":470},{"s":"4r","w":367,"v":630},{"s":"4r","w":369,"v":670},{"s":"4r","w":372,"v":640},{"s":"4r","w":375,"v":560},{"s":"4r","w":378,"v":525},{"s":"4r","w":381,"v":540},{"s":"4r","w":384,"v":595},{"s":"4r","w":386,"v":615},{"s":"4r","w":389,"v":600},{"s":"4r","w":392,"v":540},{"s":"4r","w":395,"v":450},{"s":"4r","w":398,"v":380},{"s":"4r","w":401,"v":330},{"s":"4r","w":404,"v":310},{"s":"4r","w":408,"v":285},{"s":"4r","w":412,"v":240},{"s":"4r","w":416,"v":190},{"s":"4r","w":420,"v":150},{"s":"4r","w":425,"v":115},{"s":"4r","w":430,"v":95},{"s":"4r","w":435,"v":80},{"s":"4r","w":440,"v":60},{"s":"4r","w":445,"v":45},{"s":"4r","w":450,"v":35},{"s":"4r","w":460,"v":22},{"s":"4r","w":480,"v":10},{"s":"4r","w":520,"v":3},{"s":"4r","w":550,"v":0}],
"c1":[
{"s":"2a","w":235,"v":-19.5},{"s":"2a","w":237,"v":-21},{"s":"2a","w":239,"v":-24},{"s":"2a","w":241,"v":-24.5},{"s":"2a","w":243,"v":-24},{"s":"2a","w":245,"v":-21.5},{"s":"2a","w":247,"v":-17},{"s":"2a","w":249,"v":-12},{"s":"2a","w":251,"v":-7},{"s":"2a","w":253,"v":-3},{"s":"2a","w":255,"v":-0.5},{"s":"2a","w":258,"v":0.5},{"s":"2a","w":262,"v":0.8},{"s":"2a","w":266,"v":1},{"s":"2a","w":270,"v":2},{"s":"2a","w":274,"v":4.2},{"s":"2a","w":278,"v":6.3},{"s":"2a","w":281,"v":7.2},{"s":"2a","w":284,"v":7.2},{"s":"2a","w":286,"v":5.5},{"s":"2a","w":289,"v":1},{"s":"2a","w":292,"v":-3},{"s":"2a","w":295,"v":-5.2},{"s":"2a","w":297,"v":-5.2},{"s":"2a","w":300,"v":-3.5},{"s":"2a","w":303,"v":-0.5},{"s":"2a","w":306,"v":3},{"s":"2a","w":309,"v":5.8},{"s":"2a","w":312,"v":6.8},{"s":"2a","w":315,"v":6.5},{"s":"2a","w":318,"v":4.5},{"s":"2a","w":321,"v":2.7},{"s":"2a","w":325,"v":2},{"s":"2a","w":330,"v":2.1},{"s":"2a","w":335,"v":2.3},{"s":"2a","w":340,"v":2.3},{"s":"2a","w":345,"v":1.8},{"s":"2a","w":350,"v":1.2},{"s":"2a","w":355,"v":0.6},{"s":"2a","w":360,"v":0.5},{"s":"2a","w":365,"v":0.3},{"s":"2a","w":370,"v":0.2},{"s":"2a","w":375,"v":0.2},{"s":"2a","w":380,"v":0},{"s":"2a","w":390,"v":-0.1},{"s":"2a","w":395,"v":-0.1},{"s":"2a","w":400,"v":0.2},
{"s":"ent-2a","w":235,"v":19},{"s":"ent-2a","w":237,"v":22},{"s":"ent-2a","w":239,"v":24},{"s":"ent-2a","w":241,"v":24.5},{"s":"ent-2a","w":243,"v":24},{"s":"ent-2a","w":245,"v":22},{"s":"ent-2a","w":247,"v":18},{"s":"ent-2a","w":249,"v":13},{"s":"ent-2a","w":251,"v":8},{"s":"ent-2a","w":253,"v":4},{"s":"ent-2a","w":255,"v":1.8},{"s":"ent-2a","w":258,"v":0.5},{"s":"ent-2a","w":262,"v":0.3},{"s":"ent-2a","w":264,"v":0.2},{"s":"ent-2a","w":267,"v":0.3},{"s":"ent-2a","w":271,"v":-1},{"s":"ent-2a","w":275,"v":-2.5},{"s":"ent-2a","w":279,"v":-3.8},{"s":"ent-2a","w":281,"v":-4.3},{"s":"ent-2a","w":284,"v":-3.8},{"s":"ent-2a","w":286,"v":-1.5},{"s":"ent-2a","w":289,"v":2},{"s":"ent-2a","w":292,"v":5.5},{"s":"ent-2a","w":295,"v":7},{"s":"ent-2a","w":297,"v":7},{"s":"ent-2a","w":300,"v":5.5},{"s":"ent-2a","w":303,"v":2},{"s":"ent-2a","w":306,"v":-1.5},{"s":"ent-2a","w":309,"v":-4},{"s":"ent-2a","w":312,"v":-5},{"s":"ent-2a","w":315,"v":-4.8},{"s":"ent-2a","w":318,"v":-3.5},{"s":"ent-2a","w":321,"v":-1.8},{"s":"ent-2a","w":325,"v":-1.6},{"s":"ent-2a","w":330,"v":-1.9},{"s":"ent-2a","w":335,"v":-1.6},{"s":"ent-2a","w":340,"v":-1.3},{"s":"ent-2a","w":345,"v":-1.1},{"s":"ent-2a","w":350,"v":-1},{"s":"ent-2a","w":355,"v":-0.7},{"s":"ent-2a","w":360,"v":-0.5},{"s":"ent-2a","w":365,"v":-0.4},{"s":"ent-2a","w":370,"v":0.1},{"s":"ent-2a","w":375,"v":0.2},{"s":"ent-2a","w":380,"v":0.1},{"s":"ent-2a","w":390,"v":-0.1},{"s":"ent-2a","w":395,"v":-0.1},{"s":"ent-2a","w":400,"v":0.2}],
"c2":[
{"s":"4a","w":230,"v":-18.5},{"s":"4a","w":231,"v":-20.5},{"s":"4a","w":233,"v":-22},{"s":"4a","w":235,"v":-25.5},{"s":"4a","w":236,"v":-26.5},{"s":"4a","w":238,"v":-25.5},{"s":"4a","w":240,"v":-21.5},{"s":"4a","w":242,"v":-16},{"s":"4a","w":244,"v":-10},{"s":"4a","w":247,"v":-6.5},{"s":"4a","w":250,"v":-3.5},{"s":"4a","w":254,"v":-0.5},{"s":"4a","w":258,"v":1.2},{"s":"4a","w":262,"v":3},{"s":"4a","w":266,"v":4.5},{"s":"4a","w":270,"v":5.1},{"s":"4a","w":272,"v":5.3},{"s":"4a","w":275,"v":4.6},{"s":"4a","w":278,"v":3.2},{"s":"4a","w":281,"v":1.6},{"s":"4a","w":284,"v":0.9},{"s":"4a","w":287,"v":1.2},{"s":"4a","w":290,"v":2},{"s":"4a","w":295,"v":2.6},{"s":"4a","w":300,"v":3},{"s":"4a","w":305,"v":3.2},{"s":"4a","w":310,"v":3},{"s":"4a","w":315,"v":2.8},{"s":"4a","w":320,"v":2.2},{"s":"4a","w":325,"v":1.5},{"s":"4a","w":330,"v":1.1},{"s":"4a","w":340,"v":0.9},{"s":"4a","w":345,"v":0.6},{"s":"4a","w":350,"v":0.4},{"s":"4a","w":355,"v":0.1},{"s":"4a","w":360,"v":-0.2},{"s":"4a","w":365,"v":0},{"s":"4a","w":370,"v":0.2},{"s":"4a","w":380,"v":0},{"s":"4a","w":390,"v":0.1},{"s":"4a","w":400,"v":0.1},{"s":"4a","w":405,"v":0},{"s":"4a","w":410,"v":-0.4},{"s":"4a","w":415,"v":0},{"s":"4a","w":420,"v":0.2},{"s":"4a","w":425,"v":0.1},{"s":"4a","w":430,"v":0.2},{"s":"4a","w":435,"v":0.4},{"s":"4a","w":440,"v":0.1},{"s":"4a","w":445,"v":-0.1},{"s":"4a","w":450,"v":-0.4},
{"s":"ent-4a","w":230,"v":12},{"s":"ent-4a","w":231,"v":18},{"s":"ent-4a","w":233,"v":23},{"s":"ent-4a","w":235,"v":25.8},{"s":"ent-4a","w":236,"v":26.5},{"s":"ent-4a","w":238,"v":26},{"s":"ent-4a","w":240,"v":23},{"s":"ent-4a","w":242,"v":19.5},{"s":"ent-4a","w":244,"v":16},{"s":"ent-4a","w":247,"v":10},{"s":"ent-4a","w":250,"v":6},{"s":"ent-4a","w":254,"v":2.8},{"s":"ent-4a","w":258,"v":0.8},{"s":"ent-4a","w":262,"v":-1},{"s":"ent-4a","w":266,"v":-2.5},{"s":"ent-4a","w":269,"v":-3.2},{"s":"ent-4a","w":271,"v":-3.3},{"s":"ent-4a","w":274,"v":-2.5},{"s":"ent-4a","w":278,"v":-1.2},{"s":"ent-4a","w":281,"v":0.2},{"s":"ent-4a","w":284,"v":1},{"s":"ent-4a","w":287,"v":1},{"s":"ent-4a","w":290,"v":0.3},{"s":"ent-4a","w":295,"v":-0.5},{"s":"ent-4a","w":300,"v":-1.2},{"s":"ent-4a","w":305,"v":-1.8},{"s":"ent-4a","w":310,"v":-2},{"s":"ent-4a","w":315,"v":-1.7},{"s":"ent-4a","w":320,"v":-1.3},{"s":"ent-4a","w":325,"v":-1},{"s":"ent-4a","w":330,"v":-0.8},{"s":"ent-4a","w":335,"v":-0.5},{"s":"ent-4a","w":340,"v":-0.3},{"s":"ent-4a","w":345,"v":-0.3},{"s":"ent-4a","w":350,"v":0.2},{"s":"ent-4a","w":355,"v":-0.3},{"s":"ent-4a","w":360,"v":-0.4},{"s":"ent-4a","w":365,"v":-0.1},{"s":"ent-4a","w":370,"v":0.1},{"s":"ent-4a","w":380,"v":-0.1},{"s":"ent-4a","w":390,"v":0.1},{"s":"ent-4a","w":400,"v":0.1},{"s":"ent-4a","w":405,"v":-0.1},{"s":"ent-4a","w":410,"v":-0.3},{"s":"ent-4a","w":415,"v":-0.1},{"s":"ent-4a","w":420,"v":0.2},{"s":"ent-4a","w":425,"v":0.1},{"s":"ent-4a","w":430,"v":0.1},{"s":"ent-4a","w":435,"v":0.4},{"s":"ent-4a","w":440,"v":0.2},{"s":"ent-4a","w":445,"v":-0.1},{"s":"ent-4a","w":450,"v":-0.3}]
},
"layer":[
{"encoding":{"x":{"field":"w","type":"quantitative","scale":{"domain":[220,400],"range":[45,298],"nice":false,"zero":false},"axis":{"orient":"bottom","offset":-339,"title":"Wavelength (nm)","values":[225,250,275,300,325,350,375,400],"tickSize":{"condition":{"test":"datum.value % 50 == 0","value":4},"value":2},"labelExpr":"datum.value % 50 == 0 ? datum.label : ''"}},"y":{"field":"v","type":"quantitative","scale":{"domain":[-0.1,1.2],"range":[259,57],"nice":false,"zero":false},"axis":{"orient":"left","offset":-45,"title":"Normalized Absorption","titlePadding":1,"values":[-0.1,0,0.1,0.2,0.3,0.4,0.5,0.6,0.7,0.8,0.9,1,1.1,1.2],"format":".1f","tickSize":{"condition":{"test":"abs(round(datum.value*10)) % 2 == 0","value":4},"value":2},"labelExpr":"abs(round(datum.value*10)) % 2 == 0 ? datum.label : ''"}}},
"layer":[{"data":{"name":"a1"},"mark":{"type":"line"},"encoding":{"color":{"field":"s","type":"nominal","scale":{"domain":["2a","2j","2k","2l","2n","2p","2u"],"range":["#555555","#F0555A","#3C8CE6","#3CAA6E","#BE8CE6","#D2A02D","#2DC8C8"]},"legend":{"orient":"none","legendX":255.7,"legendY":35.7,"title":null,"symbolType":"M-0.7,0H5.3","symbolSize":64,"symbolStrokeWidth":1.3,"labelFontSize":10,"labelOffset":16,"padding":2,"rowPadding":2.8,"fillColor":"#fff","strokeColor":"#999"}}}},
{"data":{"name":"titles"},"transform":[{"filter":"datum.panel=='a'"}],"mark":{"type":"text","align":"left","baseline":"middle","fontWeight":"bold","fontSize":10.8},"encoding":{"text":{"field":"label"}}}]},
{"data":{"name":"a2"},"mark":{"type":"line"},"encoding":{"x":{"field":"w","type":"quantitative","scale":{"domain":[220,400],"range":[359.3,612.7],"nice":false,"zero":false},"axis":{"orient":"bottom","offset":-339,"title":"Wavelength (nm)","values":[225,250,275,300,325,350,375,400],"tickSize":{"condition":{"test":"datum.value % 50 == 0","value":4},"value":2},"labelExpr":"datum.value % 50 == 0 ? datum.label : ''"}},"y":{"field":"v","type":"quantitative","scale":{"domain":[-0.1,0.8],"range":[259,55.7],"nice":false,"zero":false},"axis":{"orient":"left","offset":-359.3,"title":"Normalized Absorption","titlePadding":1,"values":[-0.1,-0.05,0,0.05,0.1,0.15,0.2,0.25,0.3,0.35,0.4,0.45,0.5,0.55,0.6,0.65,0.7,0.75,0.8],"format":".1f","tickSize":{"condition":{"test":"round(abs(datum.value)*100) % 10 == 0","value":4},"value":2},"labelExpr":"round(abs(datum.value)*100) % 10 == 0 ? datum.label : ''"}},"color":{"field":"s","type":"nominal","scale":{"domain":["4a","4h","4i","4l","4n","4o","4r"],"range":["#555555","#F0555A","#3C8CE6","#3CAA6E","#BE8CE6","#D2A02D","#2DC8C8"]},"legend":{"orient":"none","legendX":570,"legendY":34,"title":null,"symbolType":"M-0.7,0H5.3","symbolSize":64,"symbolStrokeWidth":1.3,"labelFontSize":10,"labelOffset":16,"padding":2,"rowPadding":2.8,"fillColor":"#fff","strokeColor":"#999"}}}},
{"encoding":{"x":{"field":"w","type":"quantitative","scale":{"domain":[350,550],"range":[715.7,966],"nice":false,"zero":false},"axis":{"orient":"bottom","offset":-339,"title":"Wavelength (nm)","values":[350,375,400,425,450,475,500,525,550],"tickSize":{"condition":{"test":"datum.value % 50 == 0","value":4},"value":2},"labelExpr":"datum.value % 50 == 0 ? datum.label : ''"}},"y":{"field":"v","type":"quantitative","scale":{"domain":[-250,3500],"range":[259.3,58.3],"nice":false,"zero":false},"axis":{"orient":"left","offset":-715.7,"title":"Intensity","values":[-250,0,250,500,750,1000,1250,1500,1750,2000,2250,2500,2750,3000,3250,3500],"format":"d","tickSize":{"condition":{"test":"abs(datum.value) % 500 == 0","value":4},"value":2},"labelExpr":"abs(datum.value) % 500 == 0 ? datum.label : ''"}}},
"layer":[{"data":{"name":"b1"},"mark":{"type":"line"},"encoding":{"color":{"field":"s","type":"nominal","scale":{"domain":["2a","2j","2k","2l","2n","2p","2u"],"range":["#555555","#F0555A","#3C8CE6","#3CAA6E","#BE8CE6","#D2A02D","#2DC8C8"]},"legend":{"orient":"none","legendX":924,"legendY":37.3,"title":null,"symbolType":"M-0.7,0H5.3","symbolSize":64,"symbolStrokeWidth":1.3,"labelFontSize":10,"labelOffset":16,"padding":2,"rowPadding":2.8,"fillColor":"#fff","strokeColor":"#999"}}}},
{"data":{"name":"titles"},"transform":[{"filter":"datum.panel=='b'"}],"mark":{"type":"text","align":"left","baseline":"middle","fontWeight":"bold","fontSize":10.8},"encoding":{"text":{"field":"label"}}}]},
{"data":{"name":"b2"},"mark":{"type":"line"},"encoding":{"x":{"field":"w","type":"quantitative","scale":{"domain":[350,550],"range":[1030.7,1280.7],"nice":false,"zero":false},"axis":{"orient":"bottom","offset":-339.7,"title":"Wavelength (nm)","values":[350,375,400,425,450,475,500,525,550],"tickSize":{"condition":{"test":"datum.value % 50 == 0","value":4},"value":2},"labelExpr":"datum.value % 50 == 0 ? datum.label : ''"}},"y":{"field":"v","type":"quantitative","scale":{"domain":[-100,1000],"range":[258.3,57.3],"nice":false,"zero":false},"axis":{"orient":"left","offset":-1030.7,"title":"Intensity","values":[-100,0,100,200,300,400,500,600,700,800,900,1000],"format":"d","tickSize":{"condition":{"test":"abs(datum.value) % 200 == 0","value":4},"value":2},"labelExpr":"abs(datum.value) % 200 == 0 ? datum.label : ''"}},"color":{"field":"s","type":"nominal","scale":{"domain":["4a","4h","4i","4l","4n","4o","4r"],"range":["#555555","#F0555A","#3C8CE6","#3CAA6E","#BE8CE6","#D2A02D","#2DC8C8"]},"legend":{"orient":"none","legendX":1238,"legendY":35.7,"title":null,"symbolType":"M-0.7,0H5.3","symbolSize":64,"symbolStrokeWidth":1.3,"labelFontSize":10,"labelOffset":16,"padding":2,"rowPadding":2.8,"fillColor":"#fff","strokeColor":"#999"}}}},
{"encoding":{"x":{"field":"w","type":"quantitative","scale":{"domain":[235.3,400],"range":[46.3,304.7],"nice":false,"zero":false},"axis":{"orient":"bottom","offset":-29.3,"title":"Wavelength (nm)","titlePadding":5,"values":[250,275,300,325,350,375,400],"labelFontSize":7.5,"titleFontSize":9,"tickSize":{"condition":{"test":"datum.value % 50 == 0","value":4},"value":2},"labelExpr":"datum.value % 50 == 0 ? datum.label : ''"}},"y":{"field":"v","type":"quantitative","scale":{"domain":[-30,30],"range":[568.7,376.7],"nice":false,"zero":false},"axis":{"orient":"left","offset":-46.3,"title":"CD (mdeg)","values":[-30,-25,-20,-15,-10,-5,0,5,10,15,20,25,30],"format":"d","labelFontSize":7.5,"titleFontSize":9,"tickSize":{"condition":{"test":"abs(datum.value) % 10 == 0","value":4},"value":2},"labelExpr":"abs(datum.value) % 10 == 0 ? datum.label : ''"}}},
"layer":[{"data":{"name":"c1"},"mark":{"type":"line"},"encoding":{"color":{"field":"s","type":"nominal","scale":{"domain":["2a","ent-2a"],"range":["#F03C3C","#F03C3C"]},"legend":{"orient":"none","legendX":255.7,"legendY":354,"title":null,"symbolType":"M-0.7,0H5.3","symbolSize":64,"symbolStrokeWidth":1.3,"labelFontSize":8,"labelFontStyle":"italic","labelOffset":16,"padding":2,"rowPadding":1,"fillColor":"#fff","strokeColor":"#999"}},"strokeDash":{"field":"s","type":"nominal","scale":{"domain":["2a","ent-2a"],"range":[[1,0],[1.5,2]]},"legend":{"orient":"none","legendX":255.7,"legendY":354,"title":null,"symbolType":"M-0.7,0H5.3","symbolSize":64,"symbolStrokeWidth":1.3,"labelFontSize":8,"labelFontStyle":"italic","labelOffset":16,"padding":2,"rowPadding":1,"fillColor":"#fff","strokeColor":"#999"}}}},
{"data":{"name":"titles"},"transform":[{"filter":"datum.panel=='c'"}],"mark":{"type":"text","align":"left","baseline":"middle","fontWeight":"bold","fontSize":10.8},"encoding":{"text":{"field":"label"}}}]},
{"data":{"name":"c2"},"mark":{"type":"line"},"encoding":{"x":{"field":"w","type":"quantitative","scale":{"domain":[230,450],"range":[761.7,1020.7],"nice":false,"zero":false},"axis":{"orient":"bottom","offset":-29,"title":"Wavelength (nm)","titlePadding":5,"values":[250,275,300,325,350,375,400,425,450],"labelFontSize":7.5,"titleFontSize":9,"tickSize":{"condition":{"test":"datum.value % 50 == 0","value":4},"value":2},"labelExpr":"datum.value % 50 == 0 ? datum.label : ''"}},"y":{"field":"v","type":"quantitative","scale":{"domain":[-30,30],"range":[569,377],"nice":false,"zero":false},"axis":{"orient":"left","offset":-761.7,"title":"CD (mdeg)","titlePadding":12,"values":[-30,-25,-20,-15,-10,-5,0,5,10,15,20,25,30],"format":"d","labelFontSize":7.5,"titleFontSize":9,"tickSize":{"condition":{"test":"abs(datum.value) % 10 == 0","value":4},"value":2},"labelExpr":"abs(datum.value) % 10 == 0 ? datum.label : ''"}},"color":{"field":"s","type":"nominal","scale":{"domain":["4a","ent-4a"],"range":["#2EF02E","#2EF02E"]},"legend":{"orient":"none","legendX":970.7,"legendY":355.7,"title":null,"symbolType":"M-0.7,0H5.3","symbolSize":64,"symbolStrokeWidth":1.3,"labelFontSize":8,"labelFontStyle":"italic","labelOffset":16,"padding":2,"rowPadding":1,"fillColor":"#fff","strokeColor":"#999"}},"strokeDash":{"field":"s","type":"nominal","scale":{"domain":["4a","ent-4a"],"range":[[1,0],[1.5,2]]},"legend":{"orient":"none","legendX":970.7,"legendY":355.7,"title":null,"symbolType":"M-0.7,0H5.3","symbolSize":64,"symbolStrokeWidth":1.3,"labelFontSize":8,"labelFontStyle":"italic","labelOffset":16,"padding":2,"rowPadding":1,"fillColor":"#fff","strokeColor":"#999"}}}},
{"encoding":{"x":{"field":"x","type":"quantitative","scale":{"domain":[0,390],"range":[400,530],"nice":false,"zero":false},"axis":null},"y":{"field":"y","type":"quantitative","scale":{"domain":[0,450],"range":[400,550],"nice":false,"zero":false},"axis":null}},"layer":[{"data":{"name":"mol2a"},"mark":{"type":"rule","color":"#111"},"encoding":{"x":{"field":"x1","type":"quantitative"},"y":{"field":"y1","type":"quantitative"},"x2":{"field":"x2"},"y2":{"field":"y2"},"size":{"field":"k","type":"nominal","scale":{"domain":["thin","bold"],"range":[0.7,1.8]},"legend":null}}},
{"data":{"name":"lab2a"},"mark":{"type":"text","fontSize":10.5},"encoding":{"text":{"field":"t"}}},
{"data":{"name":"name2a"},"mark":{"type":"text","fontSize":10,"fontWeight":"bold"},"encoding":{"text":{"field":"t"}}}]},
{"encoding":{"x":{"field":"x","type":"quantitative","scale":{"domain":[0,390],"range":[1110,1240],"nice":false,"zero":false},"axis":null},"y":{"field":"y","type":"quantitative","scale":{"domain":[0,450],"range":[400,550],"nice":false,"zero":false},"axis":null}},"layer":[{"data":{"name":"mol4a"},"mark":{"type":"rule","color":"#111"},"encoding":{"x":{"field":"x1","type":"quantitative"},"y":{"field":"y1","type":"quantitative"},"x2":{"field":"x2"},"y2":{"field":"y2"},"size":{"field":"k","type":"nominal","scale":{"domain":["thin","bold"],"range":[0.7,1.8]},"legend":null}}},
{"data":{"name":"lab4a"},"mark":{"type":"text","fontSize":10.5},"encoding":{"text":{"field":"t"}}},
{"data":{"name":"name4a"},"mark":{"type":"text","fontSize":10,"fontWeight":"bold"},"encoding":{"text":{"field":"t"}}}]}
]}
